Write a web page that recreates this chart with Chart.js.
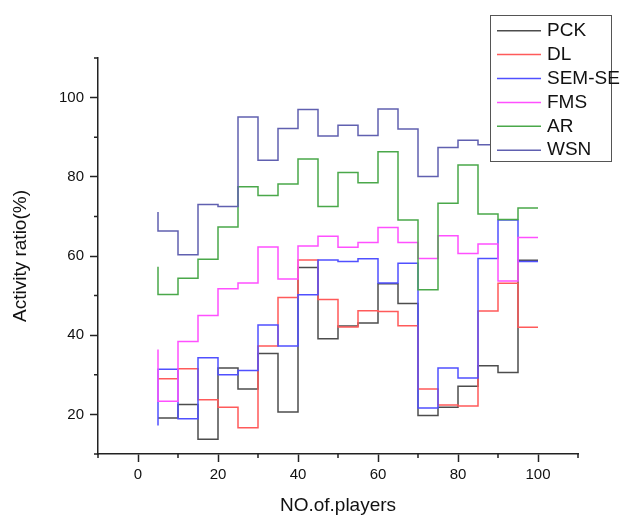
<!DOCTYPE html>
<html><head><meta charset="utf-8">
<script src="https://cdn.jsdelivr.net/npm/chart.js@4"></script>
<style>html,body{margin:0;padding:0;background:#fff}canvas{display:block}</style>
</head><body>
<canvas id="c" width="623" height="515"></canvas>
<script>
const players = [5,10,15,20,25,30,35,40,45,50,55,60,65,70,75,80,85,90,95,100];
const seriesNames = ['PCK','DL','SEM-SE','FMS','AR','WSN'];
const pck   = [19.1,19.1,22.5,13.7,31.7,26.4,35.4,20.6,57.1,39.1,42.3,43.1,53.0,48.0,19.7,21.8,27.1,32.3,30.6,58.9];
const dl    = [29.0,29.0,31.5,23.7,21.8,16.6,37.3,49.5,59.0,49.0,42.1,46.2,46.0,42.4,26.4,22.4,22.1,46.1,53.1,42.0];
const semse = [17.2,31.4,18.9,34.3,30.0,31.1,42.6,37.3,50.2,59.0,58.6,59.3,53.2,58.2,21.6,31.7,29.2,59.4,69.1,58.6];
const fms   = [36.4,23.3,38.4,45.0,51.7,53.2,62.3,54.2,62.5,65.0,62.2,63.4,67.2,63.4,59.4,65.1,60.6,63.0,53.7,64.7];
const ar    = [57.3,50.3,54.4,59.2,67.3,77.5,75.3,78.2,84.5,72.5,81.1,78.5,86.3,69.1,51.5,73.3,83.0,70.6,69.2,72.1];
const wsn   = [71.1,66.3,60.3,73.0,72.5,95.1,84.2,92.2,97.0,90.3,93.0,90.4,97.1,92.1,80.1,87.4,89.2,88.1,88.0,88.0];
const xTicks = [0,20,40,60,80,100];
const yTicks = [20,40,60,80,100];
const xMinorTicks = [-10,10,30,50,70,90,110];
const yMinorTicks = [10,30,50,70,90,110];

const seriesValues = [pck, dl, semse, fms, ar, wsn];
const colors = ['#4d4d4d','#ff5a5a','#5050ff','#ff50ff','#4aa84a','#6060b0'];

const FONT = '"Liberation Sans", Arial, sans-serif';
Chart.defaults.font.family = FONT;
Chart.defaults.color = '#111';

const minorTicks = {
  id: 'minorTicks',
  afterDraw(chart) {
    const ctx = chart.ctx;
    const xs = chart.scales.x, ys = chart.scales.y;
    ctx.save();
    ctx.strokeStyle = '#222';
    ctx.lineWidth = 1.5;
    ctx.beginPath();
    xMinorTicks.forEach(v => {
      const px = xs.getPixelForValue(v);
      ctx.moveTo(px, xs.top); ctx.lineTo(px, xs.top + 4);
    });
    yMinorTicks.forEach(v => {
      const py = ys.getPixelForValue(v);
      ctx.moveTo(ys.right, py); ctx.lineTo(ys.right - 4, py);
    });
    ctx.stroke();
    ctx.restore();
  }
};

const boxLegend = {
  id: 'boxLegend',
  afterDraw(chart) {
    const ctx = chart.ctx;
    ctx.save();
    const bx = 490.5, by = 15.5, bw = 121, bh = 146;
    ctx.fillStyle = '#fff';
    ctx.fillRect(bx, by, bw, bh);
    ctx.strokeStyle = '#555';
    ctx.lineWidth = 1;
    ctx.strokeRect(bx, by, bw, bh);
    ctx.font = '19px ' + FONT;
    ctx.textBaseline = 'middle';
    chart.data.datasets.forEach((ds, i) => {
      const y = 30.7 + i * 23.9;
      ctx.strokeStyle = ds.borderColor;
      ctx.lineWidth = 1.5;
      ctx.beginPath(); ctx.moveTo(497, y); ctx.lineTo(541, y); ctx.stroke();
      ctx.fillStyle = '#111';
      ctx.fillText(ds.label, 547, y);
    });
    ctx.restore();
  }
};

new Chart(document.getElementById('c'), {
  type: 'line',
  data: {
    datasets: seriesNames.map((name, i) => ({
      label: name,
      data: players.map((x, j) => ({x: x, y: seriesValues[i][j]})),
      borderColor: colors[i],
      backgroundColor: colors[i],
      borderWidth: 1.5,
      pointRadius: 0,
      stepped: 'after',
      fill: false,
      order: -i
    }))
  },
  options: {
    responsive: false,
    animation: false,
    devicePixelRatio: 1,
    layout: { padding: { left: 0, top: 58, right: 45, bottom: 0 } },
    plugins: { legend: { display: false }, tooltip: { enabled: false } },
    scales: {
      x: {
        type: 'linear', min: -10, max: 110,
        afterBuildTicks: s => { s.ticks = xTicks.map(v => ({value: v})); },
        afterFit: s => { s.height = 61; },
        ticks: { font: { size: 15 }, color: '#111', padding: 4, autoSkip: false, maxRotation: 0 },
        grid: { drawOnChartArea: false, drawTicks: true, tickLength: 8, tickWidth: 1.5, tickColor: '#222' },
        border: { display: true, color: '#222', width: 1.5 },
        title: { display: true, text: 'NO.of.players', font: { size: 19, lineHeight: 1 }, color: '#111', padding: { top: 0, bottom: 0 } }
      },
      y: {
        type: 'linear', min: 10, max: 110,
        afterBuildTicks: s => { s.ticks = yTicks.map(v => ({value: v})); },
        afterFit: s => { s.width = 98; },
        ticks: { font: { size: 15 }, color: '#111', padding: 6, autoSkip: false },
        grid: { drawOnChartArea: false, drawTicks: true, tickLength: 8, tickWidth: 1.5, tickColor: '#222' },
        border: { display: true, color: '#222', width: 1.5 },
        title: { display: true, text: 'Activity ratio(%)', font: { size: 19, lineHeight: 1 }, color: '#111', padding: { top: 11.5, bottom: 0 } }
      }
    }
  },
  plugins: [minorTicks, boxLegend]
});
</script>
</body></html>
